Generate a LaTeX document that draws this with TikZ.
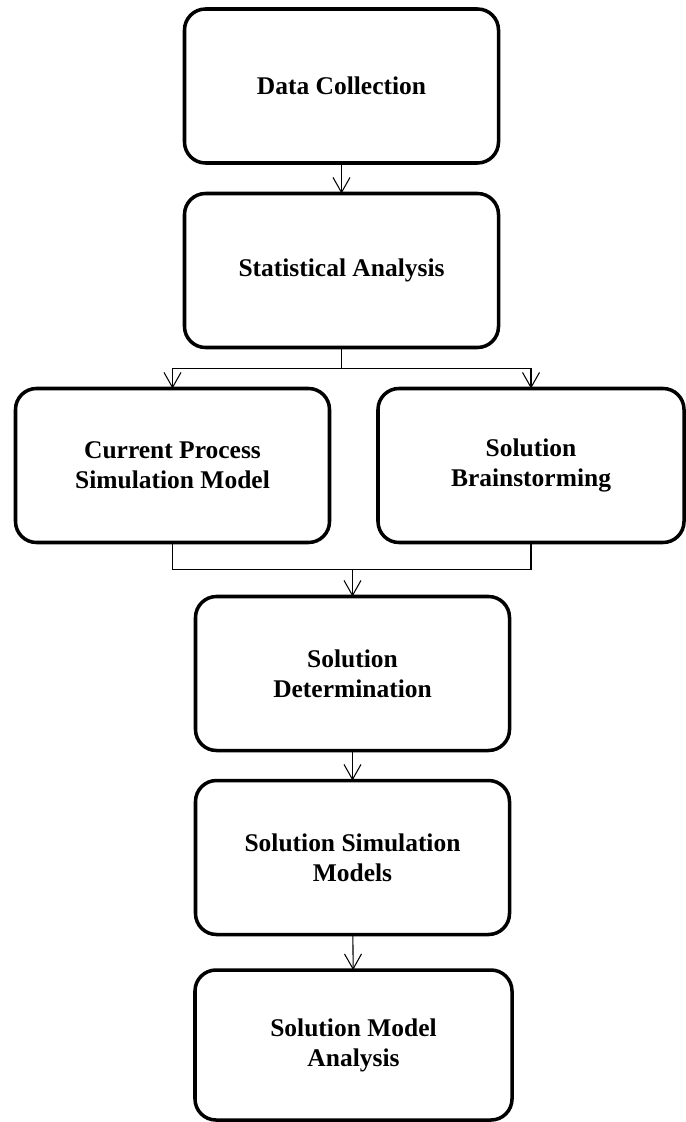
\documentclass[tikz,border=0pt]{standalone}
\usepackage{fontspec}
\setmainfont{Liberation Serif}
\usetikzlibrary{arrows.meta}

\begin{document}
\begin{tikzpicture}[
    box/.style={
        draw, line width=2pt, rounded corners=0.42cm,
        align=center, font=\bfseries\fontsize{14.5}{17}\selectfont,
        minimum width=6.28cm, minimum height=3.08cm,
        inner sep=0pt, outer sep=0pt
    },
    con/.style={
        line width=0.6pt
    },
    arr/.style={
        con, -{Straight Barb[length=3mm,width=3.4mm,line width=0.6pt]}
    }
]
    \useasboundingbox (0,0) rectangle (13.72,-22.44);

    \node[box] (collect) at (6.83,-1.72) {Data Collection};
    \node[box] (stats) at (6.83,-5.41) {Statistical Analysis};
    \node[box] (current) at (3.45,-9.31) {Current Process\\Simulation Model};
    \node[box, minimum width=6.12cm] (brain) at (10.62,-9.31) {Solution\\Brainstorming};
    \node[box] (determ) at (7.05,-13.47) {Solution\\Determination};
    \node[box] (simmod) at (7.05,-17.15) {Solution Simulation\\Models};
    \node[box, minimum width=6.34cm, minimum height=3.0cm] (analysis) at (7.07,-20.9) {Solution Model\\Analysis};

    \coordinate (split) at ([yshift=-0.42cm]stats.south);
    \coordinate (merge) at ([yshift=-0.54cm]current.south -| determ.north);

    \draw[arr] (collect) -- (stats);
    \draw[con] (stats) -- (split);
    \draw[arr] (split) -| (current);
    \draw[arr] (split) -| (brain);
    \draw[con] (current.south) -- ++(0,-0.54) -| (brain.south);
    \draw[arr] (merge) -- (determ);
    \draw[arr] (determ) -- (simmod);
    \draw[arr] (simmod) -- (analysis);
\end{tikzpicture}
\end{document}
